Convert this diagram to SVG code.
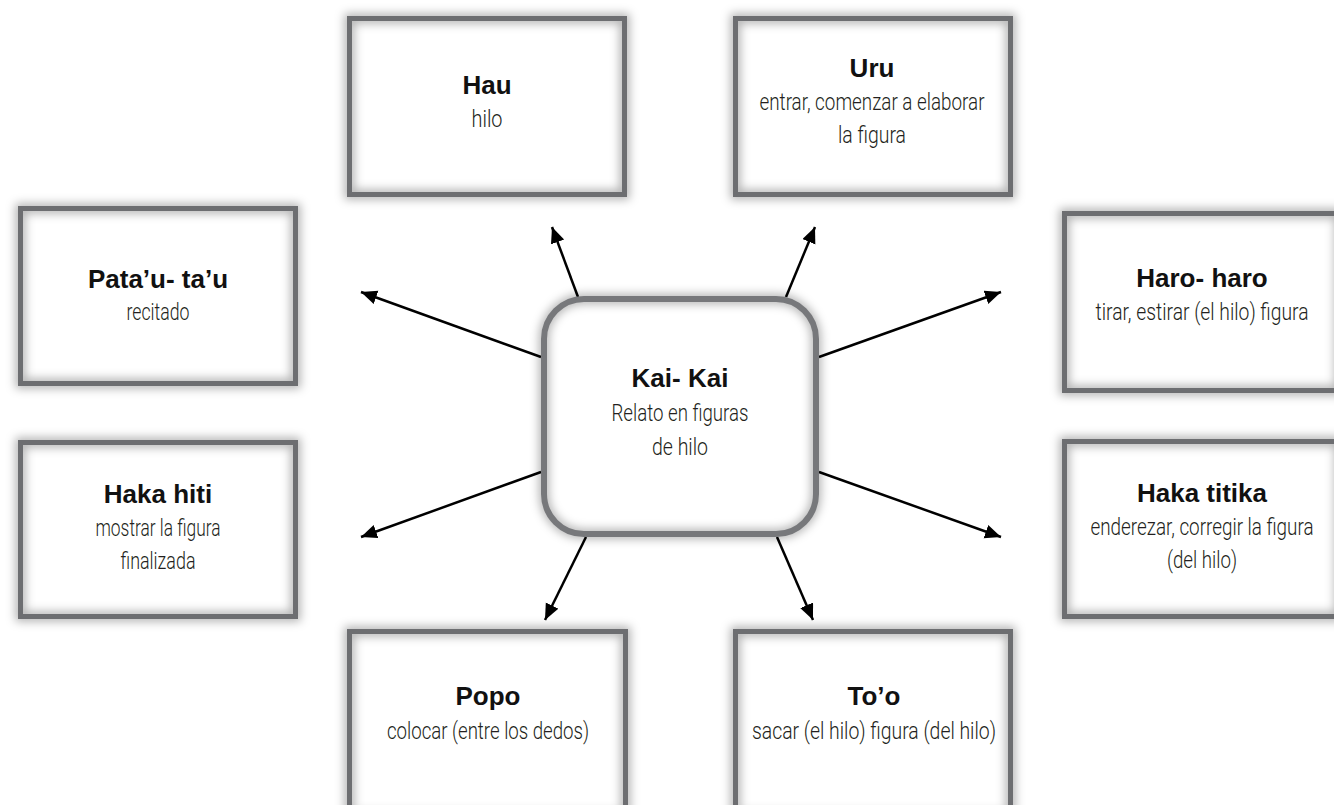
<svg xmlns="http://www.w3.org/2000/svg" width="1334" height="805" viewBox="0 0 1334 805">
<style>
.bg{fill:#ffffff}
.box{fill:#ffffff}
.glow{fill:none;stroke:#000000;stroke-opacity:0.3;stroke-width:10;filter:url(#soft)}
.frame{fill:none;stroke:#6d6e71;stroke-width:5}
.cframe{fill:none;stroke:#77787b;stroke-width:6}
.t{font-family:"Liberation Sans",Arial,sans-serif;font-weight:bold;font-size:26px;fill:#111111;text-anchor:middle}
.s{font-family:Roboto,"Liberation Sans",sans-serif;font-weight:300;font-size:24px;fill:#231f20;text-anchor:middle}
.c{fill:none;stroke:#000000;stroke-width:2.5;marker-end:url(#ah)}
</style>
<defs>
<filter id="soft" x="-15%" y="-20%" width="130%" height="140%">
<feGaussianBlur stdDeviation="5"/>
</filter>
<marker id="ah" markerUnits="userSpaceOnUse" markerWidth="18" markerHeight="16" refX="16" refY="7" orient="auto">
<path d="M0,0 L16,7 L0,14 Z" fill="#000000"/>
</marker>
</defs>
<rect class="bg" x="0" y="0" width="1334" height="805"/>

<g id="connectors">
<line class="c" x1="578" y1="297" x2="552" y2="227"/>
<line class="c" x1="786" y1="297" x2="815" y2="227"/>
<line class="c" x1="541" y1="357" x2="361" y2="292"/>
<line class="c" x1="819" y1="357" x2="1001" y2="292"/>
<line class="c" x1="541" y1="472" x2="361" y2="537"/>
<line class="c" x1="819" y1="472" x2="1001" y2="537"/>
<line class="c" x1="586" y1="537" x2="545" y2="620"/>
<line class="c" x1="777" y1="537" x2="813" y2="620"/>
</g>

<g id="node-kaikai">
<rect class="box" x="544" y="299" width="272" height="235" rx="40" ry="40"/>
<rect class="glow" x="544" y="299" width="272" height="235" rx="40" ry="40"/>
<rect class="cframe" x="544" y="299" width="272" height="235" rx="40" ry="40"/>
<text class="t" x="680" y="387">Kai- Kai</text>
<text class="s" x="680" y="421" textLength="137" lengthAdjust="spacingAndGlyphs">Relato en figuras</text>
<text class="s" x="680" y="455" textLength="56" lengthAdjust="spacingAndGlyphs">de hilo</text>
</g>

<g id="node-hau">
<rect class="box" x="349.5" y="18.5" width="275" height="176"/>
<rect class="glow" x="349.5" y="18.5" width="275" height="176"/>
<rect class="frame" x="349.5" y="18.5" width="275" height="176"/>
<text class="t" x="487" y="94">Hau</text>
<text class="s" x="487" y="127" textLength="31" lengthAdjust="spacingAndGlyphs">hilo</text>
</g>

<g id="node-uru">
<rect class="box" x="735.5" y="18.5" width="275" height="176"/>
<rect class="glow" x="735.5" y="18.5" width="275" height="176"/>
<rect class="frame" x="735.5" y="18.5" width="275" height="176"/>
<text class="t" x="872" y="77">Uru</text>
<text class="s" x="872" y="110" textLength="225" lengthAdjust="spacingAndGlyphs">entrar, comenzar a elaborar</text>
<text class="s" x="872" y="143" textLength="68" lengthAdjust="spacingAndGlyphs">la figura</text>
</g>

<g id="node-pataututau">
<rect class="box" x="20.5" y="208.5" width="275" height="175"/>
<rect class="glow" x="20.5" y="208.5" width="275" height="175"/>
<rect class="frame" x="20.5" y="208.5" width="275" height="175"/>
<text class="t" x="158" y="288">Pata’u- ta’u</text>
<text class="s" x="158" y="320" textLength="63" lengthAdjust="spacingAndGlyphs">recitado</text>
</g>

<g id="node-haroharo">
<rect class="box" x="1064.5" y="213.5" width="275" height="177"/>
<rect class="glow" x="1064.5" y="213.5" width="275" height="177"/>
<rect class="frame" x="1064.5" y="213.5" width="275" height="177"/>
<text class="t" x="1202" y="287">Haro- haro</text>
<text class="s" x="1202" y="320" textLength="213" lengthAdjust="spacingAndGlyphs">tirar, estirar (el hilo) figura</text>
</g>

<g id="node-hakahiti">
<rect class="box" x="20.5" y="442.5" width="275" height="174"/>
<rect class="glow" x="20.5" y="442.5" width="275" height="174"/>
<rect class="frame" x="20.5" y="442.5" width="275" height="174"/>
<text class="t" x="158" y="503">Haka hiti</text>
<text class="s" x="158" y="536" textLength="125" lengthAdjust="spacingAndGlyphs">mostrar la figura</text>
<text class="s" x="158" y="569" textLength="75" lengthAdjust="spacingAndGlyphs">finalizada</text>
</g>

<g id="node-hakatitika">
<rect class="box" x="1064.5" y="441.5" width="275" height="175"/>
<rect class="glow" x="1064.5" y="441.5" width="275" height="175"/>
<rect class="frame" x="1064.5" y="441.5" width="275" height="175"/>
<text class="t" x="1202" y="502">Haka titika</text>
<text class="s" x="1202" y="535" textLength="223" lengthAdjust="spacingAndGlyphs">enderezar, corregir la figura</text>
<text class="s" x="1202" y="568" textLength="70" lengthAdjust="spacingAndGlyphs">(del hilo)</text>
</g>

<g id="node-popo">
<rect class="box" x="349.5" y="631.5" width="276" height="185"/>
<rect class="glow" x="349.5" y="631.5" width="276" height="185"/>
<rect class="frame" x="349.5" y="631.5" width="276" height="185"/>
<text class="t" x="488" y="705">Popo</text>
<text class="s" x="488" y="739" textLength="202" lengthAdjust="spacingAndGlyphs">colocar (entre los dedos)</text>
</g>

<g id="node-too">
<rect class="box" x="735.5" y="631.5" width="275" height="185"/>
<rect class="glow" x="735.5" y="631.5" width="275" height="185"/>
<rect class="frame" x="735.5" y="631.5" width="275" height="185"/>
<text class="t" x="874" y="705">To’o</text>
<text class="s" x="874" y="739" textLength="244" lengthAdjust="spacingAndGlyphs">sacar (el hilo) figura (del hilo)</text>
</g>
</svg>
